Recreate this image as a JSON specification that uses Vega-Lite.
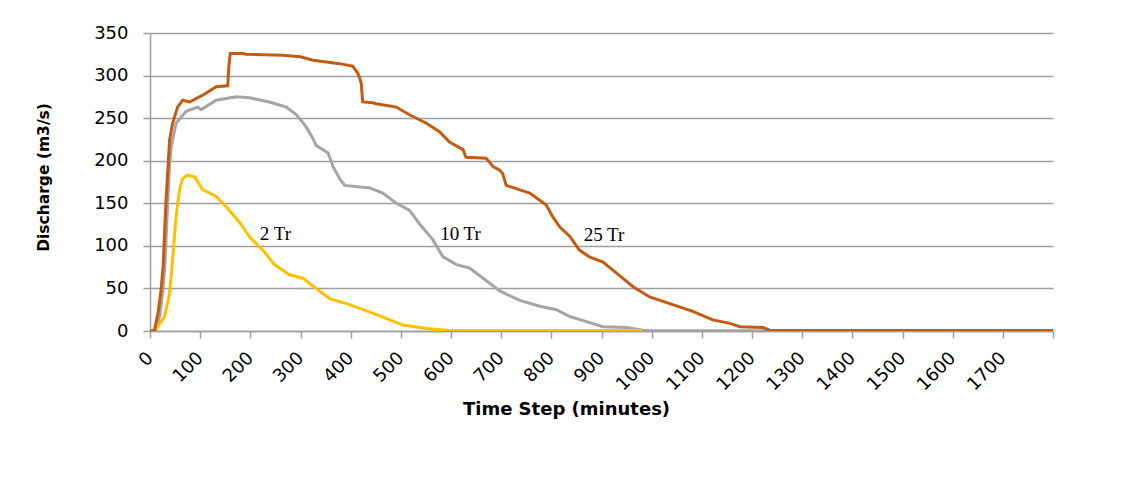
{
  "$schema": "https://vega.github.io/schema/vega-lite/v6.json",
  "autosize": {"type": "none"},
  "padding": {"left": 150, "top": 33, "right": 71, "bottom": 148},
  "width": 903,
  "height": 298,
  "background": "white",
  "config": {
    "view": {"stroke": null},
    "axis": {"labelFont": "DejaVu Sans", "titleFont": "DejaVu Sans", "labelColor": "#000000", "titleColor": "#000000"}
  },
  "datasets": {
    "flows": [
      {"series": "25 Tr", "t": 0, "q": 0}, {"series": "25 Tr", "t": 9, "q": 1}, {"series": "25 Tr", "t": 16, "q": 21}, {"series": "25 Tr", "t": 22, "q": 48}, {"series": "25 Tr", "t": 26, "q": 75}, {"series": "25 Tr", "t": 29, "q": 115}, {"series": "25 Tr", "t": 32, "q": 154}, {"series": "25 Tr", "t": 36, "q": 193}, {"series": "25 Tr", "t": 39, "q": 224}, {"series": "25 Tr", "t": 45, "q": 244}, {"series": "25 Tr", "t": 55, "q": 263}, {"series": "25 Tr", "t": 65, "q": 271}, {"series": "25 Tr", "t": 79, "q": 269}, {"series": "25 Tr", "t": 105, "q": 277}, {"series": "25 Tr", "t": 132, "q": 287}, {"series": "25 Tr", "t": 155, "q": 288}, {"series": "25 Tr", "t": 157, "q": 310}, {"series": "25 Tr", "t": 160, "q": 326}, {"series": "25 Tr", "t": 185, "q": 326}, {"series": "25 Tr", "t": 192, "q": 325}, {"series": "25 Tr", "t": 265, "q": 324}, {"series": "25 Tr", "t": 300, "q": 322}, {"series": "25 Tr", "t": 325, "q": 318}, {"series": "25 Tr", "t": 378, "q": 314}, {"series": "25 Tr", "t": 404, "q": 311}, {"series": "25 Tr", "t": 414, "q": 303}, {"series": "25 Tr", "t": 418, "q": 297}, {"series": "25 Tr", "t": 421, "q": 291}, {"series": "25 Tr", "t": 424, "q": 269}, {"series": "25 Tr", "t": 444, "q": 268}, {"series": "25 Tr", "t": 451, "q": 267}, {"series": "25 Tr", "t": 491, "q": 263}, {"series": "25 Tr", "t": 517, "q": 254}, {"series": "25 Tr", "t": 551, "q": 244}, {"series": "25 Tr", "t": 577, "q": 234}, {"series": "25 Tr", "t": 597, "q": 222}, {"series": "25 Tr", "t": 624, "q": 213}, {"series": "25 Tr", "t": 630, "q": 204}, {"series": "25 Tr", "t": 670, "q": 203}, {"series": "25 Tr", "t": 684, "q": 193}, {"series": "25 Tr", "t": 697, "q": 189}, {"series": "25 Tr", "t": 703, "q": 185}, {"series": "25 Tr", "t": 710, "q": 171}, {"series": "25 Tr", "t": 757, "q": 162}, {"series": "25 Tr", "t": 790, "q": 148}, {"series": "25 Tr", "t": 803, "q": 134}, {"series": "25 Tr", "t": 817, "q": 122}, {"series": "25 Tr", "t": 837, "q": 111}, {"series": "25 Tr", "t": 856, "q": 95}, {"series": "25 Tr", "t": 876, "q": 87}, {"series": "25 Tr", "t": 903, "q": 81}, {"series": "25 Tr", "t": 930, "q": 68}, {"series": "25 Tr", "t": 963, "q": 52}, {"series": "25 Tr", "t": 996, "q": 40}, {"series": "25 Tr", "t": 1042, "q": 31}, {"series": "25 Tr", "t": 1082, "q": 23}, {"series": "25 Tr", "t": 1122, "q": 13}, {"series": "25 Tr", "t": 1156, "q": 9}, {"series": "25 Tr", "t": 1176, "q": 5}, {"series": "25 Tr", "t": 1222, "q": 4}, {"series": "25 Tr", "t": 1235, "q": 1}, {"series": "25 Tr", "t": 1255, "q": 0.5}, {"series": "25 Tr", "t": 1800, "q": 0.5},
      {"series": "10 Tr", "t": 0, "q": 0}, {"series": "10 Tr", "t": 12, "q": 0}, {"series": "10 Tr", "t": 20, "q": 20}, {"series": "10 Tr", "t": 26, "q": 50}, {"series": "10 Tr", "t": 30, "q": 80}, {"series": "10 Tr", "t": 33, "q": 120}, {"series": "10 Tr", "t": 36, "q": 160}, {"series": "10 Tr", "t": 39, "q": 195}, {"series": "10 Tr", "t": 42, "q": 215}, {"series": "10 Tr", "t": 45, "q": 224}, {"series": "10 Tr", "t": 52, "q": 244}, {"series": "10 Tr", "t": 72, "q": 258}, {"series": "10 Tr", "t": 95, "q": 263}, {"series": "10 Tr", "t": 102, "q": 260}, {"series": "10 Tr", "t": 132, "q": 271}, {"series": "10 Tr", "t": 172, "q": 275}, {"series": "10 Tr", "t": 198, "q": 274}, {"series": "10 Tr", "t": 238, "q": 269}, {"series": "10 Tr", "t": 272, "q": 263}, {"series": "10 Tr", "t": 292, "q": 254}, {"series": "10 Tr", "t": 311, "q": 240}, {"series": "10 Tr", "t": 325, "q": 226}, {"series": "10 Tr", "t": 331, "q": 218}, {"series": "10 Tr", "t": 355, "q": 209}, {"series": "10 Tr", "t": 365, "q": 193}, {"series": "10 Tr", "t": 378, "q": 179}, {"series": "10 Tr", "t": 388, "q": 171}, {"series": "10 Tr", "t": 438, "q": 168}, {"series": "10 Tr", "t": 464, "q": 162}, {"series": "10 Tr", "t": 491, "q": 150}, {"series": "10 Tr", "t": 517, "q": 142}, {"series": "10 Tr", "t": 537, "q": 126}, {"series": "10 Tr", "t": 564, "q": 107}, {"series": "10 Tr", "t": 584, "q": 87}, {"series": "10 Tr", "t": 611, "q": 78}, {"series": "10 Tr", "t": 637, "q": 74}, {"series": "10 Tr", "t": 664, "q": 62}, {"series": "10 Tr", "t": 697, "q": 47}, {"series": "10 Tr", "t": 737, "q": 36}, {"series": "10 Tr", "t": 777, "q": 29}, {"series": "10 Tr", "t": 810, "q": 25}, {"series": "10 Tr", "t": 837, "q": 17}, {"series": "10 Tr", "t": 870, "q": 11}, {"series": "10 Tr", "t": 903, "q": 5}, {"series": "10 Tr", "t": 950, "q": 4}, {"series": "10 Tr", "t": 983, "q": 1}, {"series": "10 Tr", "t": 1000, "q": 0.3}, {"series": "10 Tr", "t": 1260, "q": 0.3},
      {"series": "2 Tr", "t": 0, "q": 0}, {"series": "2 Tr", "t": 9, "q": 0}, {"series": "2 Tr", "t": 29, "q": 17}, {"series": "2 Tr", "t": 39, "q": 44}, {"series": "2 Tr", "t": 45, "q": 83}, {"series": "2 Tr", "t": 52, "q": 134}, {"series": "2 Tr", "t": 59, "q": 166}, {"series": "2 Tr", "t": 65, "q": 179}, {"series": "2 Tr", "t": 75, "q": 183}, {"series": "2 Tr", "t": 89, "q": 181}, {"series": "2 Tr", "t": 105, "q": 166}, {"series": "2 Tr", "t": 132, "q": 158}, {"series": "2 Tr", "t": 152, "q": 146}, {"series": "2 Tr", "t": 178, "q": 128}, {"series": "2 Tr", "t": 198, "q": 111}, {"series": "2 Tr", "t": 218, "q": 99}, {"series": "2 Tr", "t": 225, "q": 95}, {"series": "2 Tr", "t": 248, "q": 78}, {"series": "2 Tr", "t": 278, "q": 66}, {"series": "2 Tr", "t": 305, "q": 62}, {"series": "2 Tr", "t": 331, "q": 50}, {"series": "2 Tr", "t": 358, "q": 38}, {"series": "2 Tr", "t": 398, "q": 31}, {"series": "2 Tr", "t": 444, "q": 21}, {"series": "2 Tr", "t": 478, "q": 13}, {"series": "2 Tr", "t": 504, "q": 7}, {"series": "2 Tr", "t": 551, "q": 3}, {"series": "2 Tr", "t": 597, "q": 0.5}, {"series": "2 Tr", "t": 980, "q": 0.5}
    ],
    "labels": [
      {"label": "2 Tr", "t": 250, "q": 114},
      {"label": "10 Tr", "t": 619, "q": 114},
      {"label": "25 Tr", "t": 905, "q": 113}
    ]
  },
  "layer": [
    {
      "data": {"name": "flows"},
      "transform": [{"filter": "datum.series === '10 Tr'"}],
      "mark": {"type": "line", "color": "#A5A5A5", "strokeWidth": 3, "clip": true},
      "encoding": {
        "x": {
          "field": "t", "type": "quantitative",
          "scale": {"domain": [0, 1800], "nice": false, "zero": true},
          "axis": {
            "title": "Time Step (minutes)",
            "titleFontSize": 18, "titleFontWeight": "bold",
            "titleX": 416, "titleY": 83, "titleBaseline": "alphabetic", "titleAlign": "center",
            "values": [0, 100, 200, 300, 400, 500, 600, 700, 800, 900, 1000, 1100, 1200, 1300, 1400, 1500, 1600, 1700, 1800],
            "format": "d",
            "labelExpr": "datum.value == 1800 ? '' : datum.label",
            "labelAngle": -45, "labelFontSize": 18, "labelPadding": 17,
            "labelAlign": "right", "labelBaseline": "middle",
            "labelFlush": false, "labelOverlap": false,
            "grid": false,
            "domainColor": "#9E9E9E", "domainWidth": 1.5,
            "tickColor": "#9E9E9E", "tickWidth": 1.5, "tickSize": 7
          }
        },
        "y": {
          "field": "q", "type": "quantitative",
          "scale": {"domain": [0, 350], "nice": false},
          "axis": {
            "title": "Discharge  (m3/s)",
            "titleFontSize": 15.5, "titleFontWeight": "bold",
            "titleAngle": -90, "titleX": -107, "titleY": 144, "titleAlign": "center", "titleBaseline": "middle",
            "values": [0, 50, 100, 150, 200, 250, 300, 350],
            "labelFontSize": 18, "labelPadding": 15,
            "grid": true, "gridColor": "#9E9E9E", "gridWidth": 1.5,
            "domainColor": "#9E9E9E", "domainWidth": 1.5,
            "tickColor": "#9E9E9E", "tickWidth": 1.5, "tickSize": 7
          }
        }
      }
    },
    {
      "data": {"name": "flows"},
      "transform": [{"filter": "datum.series === '2 Tr'"}],
      "mark": {"type": "line", "color": "#FFC000", "strokeWidth": 3, "clip": true},
      "encoding": {
        "x": {"field": "t", "type": "quantitative"},
        "y": {"field": "q", "type": "quantitative"}
      }
    },
    {
      "data": {"name": "flows"},
      "transform": [{"filter": "datum.series === '25 Tr'"}],
      "mark": {"type": "line", "color": "#C55A11", "strokeWidth": 3, "clip": true},
      "encoding": {
        "x": {"field": "t", "type": "quantitative"},
        "y": {"field": "q", "type": "quantitative"}
      }
    },
    {
      "data": {"name": "labels"},
      "mark": {"type": "text", "font": "Liberation Serif", "fontSize": 19, "color": "#000000", "align": "center", "baseline": "middle"},
      "encoding": {
        "x": {"field": "t", "type": "quantitative"},
        "y": {"field": "q", "type": "quantitative"},
        "text": {"field": "label"}
      }
    }
  ]
}
